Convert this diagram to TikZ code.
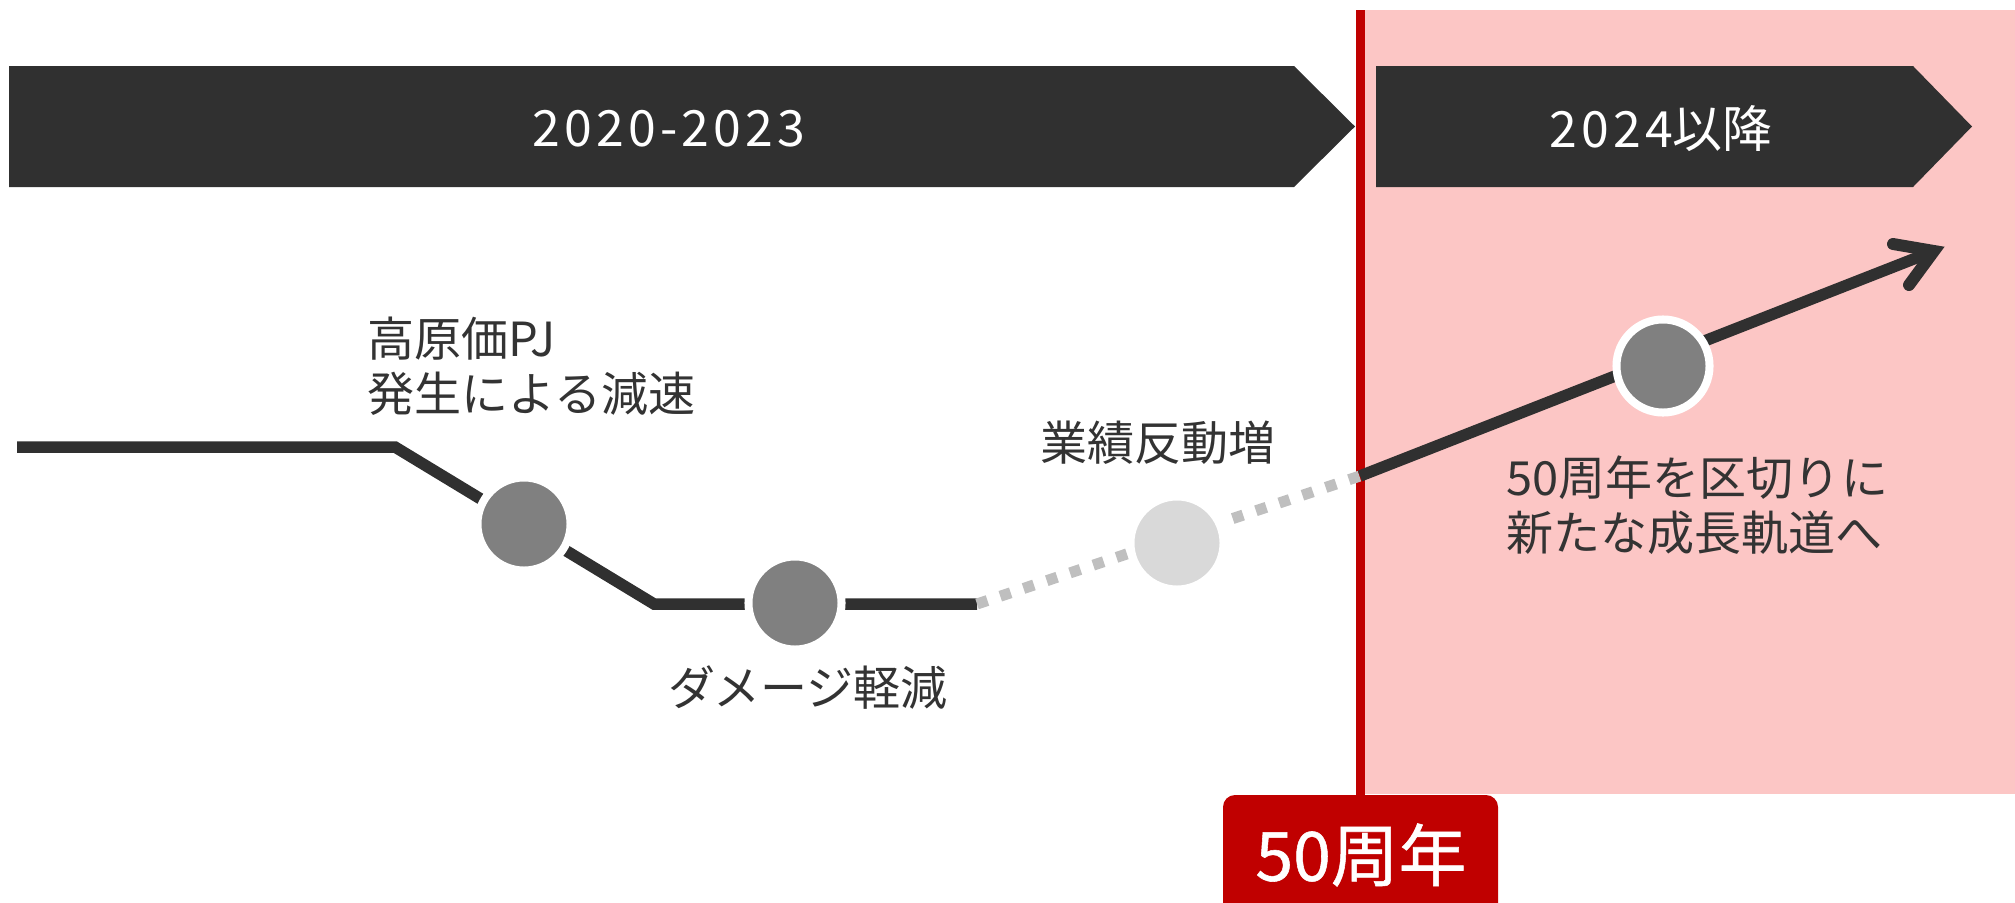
\documentclass[tikz,border=0pt]{standalone}
\usepackage{fontspec}
\setmainfont{Noto Sans CJK JP}
\definecolor{bardark}{RGB}{48,48,48}
\definecolor{textdark}{RGB}{51,51,51}
\definecolor{dotgrey}{RGB}{128,128,128}
\definecolor{dotlight}{RGB}{217,217,217}
\definecolor{dashgrey}{RGB}{191,191,191}
\definecolor{redc}{RGB}{192,0,0}
\definecolor{pinkbg}{RGB}{252,198,197}
\newcommand{\widedigits}[1]{{\addfontfeature{LetterSpace=8.5}#1}}
\begin{document}
\begin{tikzpicture}[x=0.01cm,y=-0.01cm,
  bar/.style={fill=bardark},
  bartext/.style={text=white,font=\fontsize{14.2}{17}\selectfont,inner sep=0pt},
  body/.style={text=textdark,font=\fontsize{13.37}{15.65}\selectfont,inner sep=0pt,align=left},
  dot/.style={circle,inner sep=0pt,minimum size=0.93cm,draw=white,line width=2.28pt,fill=dotgrey},
  trend/.style={draw=bardark,line width=3.27pt},
  dashline/.style={draw=dashgrey,line width=3.13pt,dash pattern=on 3.13pt off 3.84pt},
]
\useasboundingbox (0,0) rectangle (2015,903);
% background zone
\fill[pinkbg] (1365,10) rectangle (2015,794);
\fill[redc] (1356,10) rectangle (1365,800);
% period bars
\fill[bar] (9,66) -- (1294,66) -- (1355,126.5) -- (1294,187) -- (9,187) -- cycle;
\fill[bar] (1376,66) -- (1913,66) -- (1972,126.5) -- (1913,187) -- (1376,187) -- cycle;
\node[bartext] (t1) at (669,129) {\widedigits{2020-2023}};
\node[bartext] (t2) at (1661,129) {\widedigits{2024}以降};
% trend path
\coordinate (p0) at (17,447);
\coordinate (p1) at (395,447);
\coordinate (p2) at (654,604);
\coordinate (p3) at (977,604);
\coordinate (m) at (1360,476);
\coordinate (v) at (1934,251);
\coordinate (b1) at (1893,244);
\coordinate (b2) at (1909,285);
\draw[trend] (p0) -- (p1) -- (p2) -- (p3);
\draw[dashline] (p3) -- (m);
\draw[trend] (m) -- (v);
\draw[trend,line width=3.4pt,line cap=round,line join=miter] (b1) -- (v) -- (b2);
% dots
\node[dot] (c1) at (524,524) {};
\node[dot] (c2) at (795,603) {};
\node[dot,fill=dotlight] (c3) at (1177,543) {};
\node[dot] (c4) at (1663,366) {};
% labels
\node[body,anchor=west] (n1) at (367,366) {高原価PJ\\発生による減速};
\node[body] (n2) at (808,688) {ダメージ軽減};
\node[body] (n3) at (1158,443) {業績反動増};
\node[body,anchor=west] (n4) at (1506,505) {50周年を区切りに\\新たな成長軌道へ};
% anniversary tag
\fill[redc,rounded corners=0.12cm] (1223,795) rectangle (1498,960);
\node[text=white,font=\fontsize{19.3}{22}\selectfont\addfontfeature{FakeBold=0.8},inner sep=0pt] (yr) at (1361,855) {50周年};
\end{tikzpicture}
\end{document}
